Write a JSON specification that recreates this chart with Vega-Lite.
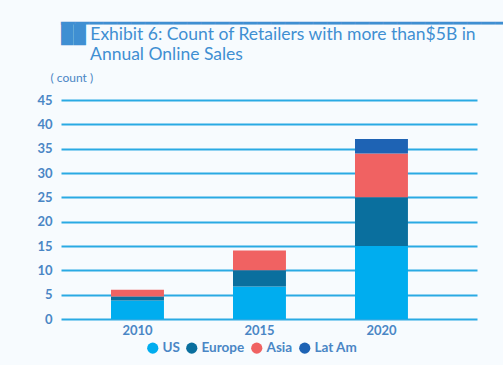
{
  "$schema": "https://vega.github.io/schema/vega-lite/v6.json",
  "width": 416,
  "height": 219,
  "autosize": "none",
  "padding": {"left": 61, "top": 100, "right": 26, "bottom": 46},
  "background": "#f7fbfe",
  "title": {
    "text": ["▁▁▁▁▁▁▁▁▁▁▁▁▁▁▁▁▁▁▁▁▁▁▁▁▁▁▁▁▁▁▁▁▁▁▁▁▁▁▁▁", "██\u00a0Exhibit 6: Count of Retailers with more than$5B in", "\u200b\u00a0\u00a0\u00a0\u00a0\u00a0\u00a0\u2009Annual Online Sales"],
    "anchor": "start",
    "frame": "group",
    "orient": "top",
    "offset": 8,
    "font": "Lato",
    "fontSize": 17.5,
    "fontWeight": "normal",
    "color": "#3f8fd2",
    "lineHeight": 20
  },
  "data": {
    "values": [
      {"year": "2010", "region": "US", "count": 3.8},
      {"year": "2010", "region": "Europe", "count": 0.8},
      {"year": "2010", "region": "Asia", "count": 1.4},
      {"year": "2015", "region": "US", "count": 6.7},
      {"year": "2015", "region": "Europe", "count": 3.3},
      {"year": "2015", "region": "Asia", "count": 4.1},
      {"year": "2020", "region": "US", "count": 15},
      {"year": "2020", "region": "Europe", "count": 10},
      {"year": "2020", "region": "Asia", "count": 9},
      {"year": "2020", "region": "Lat Am", "count": 3}
    ]
  },
  "transform": [
    {"calculate": "indexof(['US','Europe','Asia','Lat Am'], datum.region)", "as": "stackRank"}
  ],
  "mark": {"type": "bar"},
  "encoding": {
    "x": {
      "field": "year",
      "type": "nominal",
      "scale": {"paddingInner": 0.566, "paddingOuter": 0.488, "align": 0.42},
      "axis": {
        "title": null,
        "labelAngle": 0,
        "domain": false,
        "ticks": false,
        "labelFont": "Lato",
        "labelFontSize": 13,
        "labelFontWeight": "bold",
        "labelColor": "#4a86c5",
        "labelPadding": 5
      }
    },
    "y": {
      "field": "count",
      "type": "quantitative",
      "aggregate": "sum",
      "stack": "zero",
      "scale": {"domain": [0, 45]},
      "axis": {
        "title": "( count )",
        "titleAngle": 0,
        "titleAlign": "left",
        "titleBaseline": "middle",
        "titleX": -11,
        "titleY": -23,
        "titleFont": "Lato",
        "titleFontSize": 12,
        "titleFontWeight": "normal",
        "titleColor": "#4a86c5",
        "values": [0, 5, 10, 15, 20, 25, 30, 35, 40, 45],
        "domain": false,
        "ticks": false,
        "grid": true,
        "gridColor": "#2aaae3",
        "gridWidth": 2,
        "gridOpacity": 1,
        "labelFont": "Lato",
        "labelFontSize": 13,
        "labelFontWeight": "bold",
        "labelColor": "#4a86c5",
        "labelPadding": 9
      }
    },
    "color": {
      "field": "region",
      "type": "nominal",
      "sort": ["US", "Europe", "Asia", "Lat Am"],
      "scale": {
        "domain": ["US", "Europe", "Asia", "Lat Am"],
        "range": ["#00adef", "#0a6f9e", "#f06262", "#1e63b4"]
      },
      "legend": {
        "title": null,
        "orient": "none",
        "legendX": 85,
        "legendY": 241,
        "direction": "horizontal",
        "symbolType": "circle",
        "symbolSize": 125,
        "symbolOpacity": 1,
        "labelFont": "Lato",
        "labelFontSize": 13.5,
        "labelFontWeight": "bold",
        "labelColor": "#4a86c5",
        "labelOffset": 3,
        "columnPadding": 5
      }
    },
    "order": {"field": "stackRank", "type": "quantitative", "sort": "ascending"}
  },
  "config": {
    "view": {"stroke": null},
    "axis": {"gridCap": "butt"}
  }
}
